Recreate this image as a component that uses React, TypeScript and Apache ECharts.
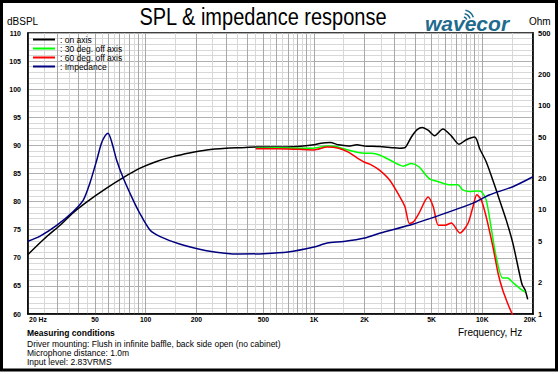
import React, { useEffect, useRef } from "react";
import * as echarts from "echarts";

const freqTickValues = [20, 50, 100, 200, 500, 1000, 2000, 5000, 10000, 20000];
const freqTickLabels = ["20 Hz", "50", "100", "200", "500", "1K", "2K", "5K", "10K", "20K"];
const ohmTickValues = [1, 2, 5, 10, 20, 50, 100, 200, 500];
const seriesNames = ["on axis", "30 deg. off axis", "60 deg. off axis", "Impedance"];
const gridDecades = [10, 100, 1000, 10000];
const gridSteps = [1, 1.5, 2, 2.5, 3, 3.5, 4, 4.5, 5, 5.5, 6, 6.5, 7, 7.5, 8, 8.5, 9, 9.5];

const onAxis: [number, number][] = [
  [20, 70.6], [25, 73.4], [31, 75.8], [37, 78.0], [45, 80.0], [58, 82.3], [74, 84.3],
  [92, 85.9], [115, 87.1], [145, 88.0], [185, 88.7], [230, 89.2], [300, 89.5], [370, 89.6],
  [450, 89.7], [600, 89.7], [800, 89.8], [1000, 90.1], [1100, 90.4], [1250, 90.5],
  [1400, 90.1], [1600, 89.9], [1800, 90.1], [2000, 89.9], [2450, 89.8], [2900, 89.6],
  [3230, 89.5], [3470, 89.6], [3790, 91.5], [4100, 92.8], [4400, 93.2], [4760, 92.7],
  [5200, 91.7], [5830, 92.9], [6540, 91.7], [7260, 90.2], [8030, 91.0], [8990, 91.5],
  [9270, 91.0], [9620, 89.5], [10540, 87.1], [11550, 83.8], [12650, 80.3], [13870, 76.7],
  [15180, 72.6], [16620, 67.2], [17250, 65.2], [17930, 64.3], [18600, 62.6],
];

const offAxis30: [number, number][] = [
  [450, 89.5], [600, 89.6], [800, 89.5], [1000, 89.5], [1200, 89.9], [1350, 89.8],
  [1500, 89.4], [1800, 88.8], [2000, 88.6], [2200, 88.6], [2450, 88.3], [2820, 87.4],
  [3390, 86.3], [3790, 86.8], [4200, 86.2], [4830, 84.1], [5550, 83.5], [6380, 83.0],
  [7150, 83.0], [7650, 82.1], [8400, 81.8], [9400, 81.9], [9850, 81.8], [10540, 80.3],
  [11260, 75.5], [12080, 70.2], [13200, 66.4], [14130, 66.4], [15180, 65.6],
  [16620, 64.6], [17930, 63.9],
];

const offAxis60: [number, number][] = [
  [450, 89.4], [600, 89.4], [800, 89.3], [1000, 89.2], [1200, 89.7], [1400, 89.5],
  [1600, 88.8], [1800, 87.8], [2000, 87.0], [2200, 86.5], [2450, 85.6], [2820, 83.8],
  [3230, 80.9], [3470, 79.1], [3690, 76.1], [3900, 76.4], [4200, 77.9], [4760, 80.8],
  [5110, 79.1], [5480, 75.8], [6020, 75.8], [6540, 76.2], [7370, 74.4], [8210, 76.1],
  [8800, 79.1], [9270, 81.2], [9850, 80.3], [10540, 77.3], [11550, 72.0], [12410, 67.2],
  [13200, 64.3], [14130, 61.9], [14680, 60.7], [15300, 59.5],
];

const impedance: [number, number][] = [
  [20, 5.0], [23.6, 5.6], [29.6, 7.1], [37, 9.6], [42.6, 12.4], [46.6, 18.0], [51.2, 30],
  [54.6, 43.6], [57.4, 51.3], [59.8, 54.4], [62.8, 45.2], [67.2, 30.2], [73.7, 20.1],
  [84.3, 12.4], [92.3, 9.27], [106, 6.41], [122, 5.53], [159, 4.7], [230, 4.06],
  [362, 3.77], [500, 3.8], [700, 3.94], [1000, 4.4], [1200, 4.8], [1500, 4.97],
  [2000, 5.37], [2450, 5.96], [3900, 7.32], [6000, 9.27], [8800, 11.6], [10980, 13.9],
  [15180, 16.7], [20000, 20.8],
];

const FONT = "'Liberation Sans', Arial, sans-serif";

export default function App() {
  const ref = useRef<HTMLDivElement>(null);
  useEffect(() => {
    if (!ref.current) return;
    const chart = echarts.init(ref.current, null, { renderer: "svg" });

    const gridFreqs: number[] = [];
    gridDecades.forEach((d) =>
      gridSteps.forEach((m) => {
        const v = Math.round(d * m * 1000) / 1000;
        if (v >= 20 && v <= 20000) gridFreqs.push(v);
      })
    );

    const last = freqTickLabels.length - 1;
    const xLabel = (v: number) => {
      const i = freqTickValues.findIndex((t) => Math.abs(t - v) / t < 1e-6);
      if (i < 0) return "";
      if (i === 0) return "{first|" + freqTickLabels[0] + "}";
      if (i === last) return "{last|" + freqTickLabels[last] + "}";
      return freqTickLabels[i];
    };

    const lineSeries = (name: string, data: [number, number][], color: string, yAxisIndex = 0) => ({
      name,
      type: "line",
      data,
      yAxisIndex,
      showSymbol: false,
      symbol: "none",
      smooth: 0.25,
      lineStyle: { color, width: 1.5 },
      itemStyle: { color },
      clip: true,
    });

    const tickFont = { fontFamily: FONT, fontSize: 6.8, fontWeight: "bold", color: "#000" };

    const option: any = {
      animation: false,
      backgroundColor: "#fff",
      textStyle: { fontFamily: FONT },
      grid: { left: 28, right: 27, top: 33, bottom: 60, show: true, borderColor: "#000", borderWidth: 1.5 },
      legend: {
        orient: "vertical",
        left: 33,
        top: 35,
        padding: 0,
        itemGap: 0,
        icon: "rect",
        itemWidth: 22,
        itemHeight: 2,
        data: seriesNames,
        formatter: ": {name}",
        textStyle: { fontFamily: FONT, fontSize: 8.5, color: "#000", lineHeight: 9 },
      },
      xAxis: {
        type: "log",
        logBase: 10,
        min: 20,
        max: 20000,
        axisLine: { show: true, lineStyle: { color: "#000", width: 1.5 } },
        axisTick: { show: false, customValues: gridFreqs },
        axisLabel: {
          customValues: freqTickValues,
          formatter: xLabel,
          ...tickFont,
          margin: 2,
          showMinLabel: true,
          showMaxLabel: true,
          rich: {
            first: { ...tickFont, padding: [0, 0, 0, 20] },
            last: { ...tickFont, padding: [0, 6, 0, 0] },
          },
        },
        splitLine: { show: true, lineStyle: { color: ["#a8a8a8", "#d8d8d8"], width: 1 } },
      },
      yAxis: [
        {
          type: "value",
          min: 60,
          max: 110,
          interval: 5,
          axisLine: { show: true, lineStyle: { color: "#000", width: 1.5 } },
          axisTick: { show: false },
          axisLabel: { ...tickFont, fontSize: 7, margin: 7 },
          splitLine: { show: true, lineStyle: { color: "#b0b0b0", width: 1 } },
          minorTick: { show: false, splitNumber: 5 },
          minorSplitLine: { show: true, lineStyle: { color: "#d8d8d8", width: 1 } },
        },
        {
          type: "log",
          logBase: 10,
          min: 1,
          max: 500,
          position: "right",
          axisLine: { show: true, lineStyle: { color: "#000", width: 1.5 } },
          axisTick: { show: false },
          axisLabel: {
            customValues: ohmTickValues,
            ...tickFont,
            fontSize: 7.5,
            margin: 5,
            showMinLabel: true,
            showMaxLabel: true,
          },
          splitLine: { show: false },
        },
      ],
      graphic: [
        {
          type: "rect",
          shape: { x: 1.5, y: 1.5, width: 555, height: 368.5 },
          style: { fill: "none", stroke: "#000", lineWidth: 3 },
          silent: true,
        },
        {
          type: "text",
          x: 263,
          y: 17,
          scaleY: 1.15,
          style: { text: "SPL & impedance response", font: "20px " + FONT, fill: "#000", align: "center", verticalAlign: "middle" },
        },
        {
          type: "text",
          x: 425,
          y: 23,
          style: { text: "wavecor", font: "italic bold 21px " + FONT, fill: "#1f6b8e", align: "left", verticalAlign: "middle" },
        },
        { type: "arc", shape: { cx: 463, cy: 21, r: 4, startAngle: -1.35, endAngle: -0.35 }, style: { stroke: "#1f6b8e", lineWidth: 1.5, fill: "none" } },
        { type: "arc", shape: { cx: 463, cy: 21, r: 7.5, startAngle: -1.35, endAngle: -0.35 }, style: { stroke: "#1f6b8e", lineWidth: 1.5, fill: "none" } },
        { type: "arc", shape: { cx: 463, cy: 21, r: 11, startAngle: -1.35, endAngle: -0.35 }, style: { stroke: "#1f6b8e", lineWidth: 1.5, fill: "none" } },
        { type: "text", x: 7, y: 21, style: { text: "dBSPL", font: "10px " + FONT, fill: "#000", align: "left", verticalAlign: "middle" } },
        { type: "text", x: 529, y: 21, style: { text: "Ohm", font: "10px " + FONT, fill: "#000", align: "left", verticalAlign: "middle" } },
        { type: "text", x: 458, y: 332, style: { text: "Frequency, Hz", font: "10px " + FONT, fill: "#000", align: "left", verticalAlign: "middle" } },
        { type: "text", x: 27, y: 333, style: { text: "Measuring conditions", font: "bold 8.5px " + FONT, fill: "#000", align: "left", verticalAlign: "middle" } },
        { type: "text", x: 27, y: 343.5, style: { text: "Driver mounting: Flush in infinite baffle, back side open (no cabinet)", font: "8.5px " + FONT, fill: "#000", align: "left", verticalAlign: "middle" } },
        { type: "text", x: 27, y: 352.5, style: { text: "Microphone distance: 1.0m", font: "8.5px " + FONT, fill: "#000", align: "left", verticalAlign: "middle" } },
        { type: "text", x: 27, y: 361.5, style: { text: "Input level: 2.83VRMS", font: "8.5px " + FONT, fill: "#000", align: "left", verticalAlign: "middle" } },
      ],
      series: [
        lineSeries(seriesNames[0], onAxis, "#000000"),
        lineSeries(seriesNames[1], offAxis30, "#00ff00"),
        lineSeries(seriesNames[2], offAxis60, "#ff0000"),
        lineSeries(seriesNames[3], impedance, "#000080", 1),
      ],
    };

    chart.setOption(option);
    return () => chart.dispose();
  }, []);

  return (
    <div
      ref={ref}
      style={{ position: "fixed", left: 0, top: 0, width: 560, height: 374, background: "#fff" }}
    />
  );
}
